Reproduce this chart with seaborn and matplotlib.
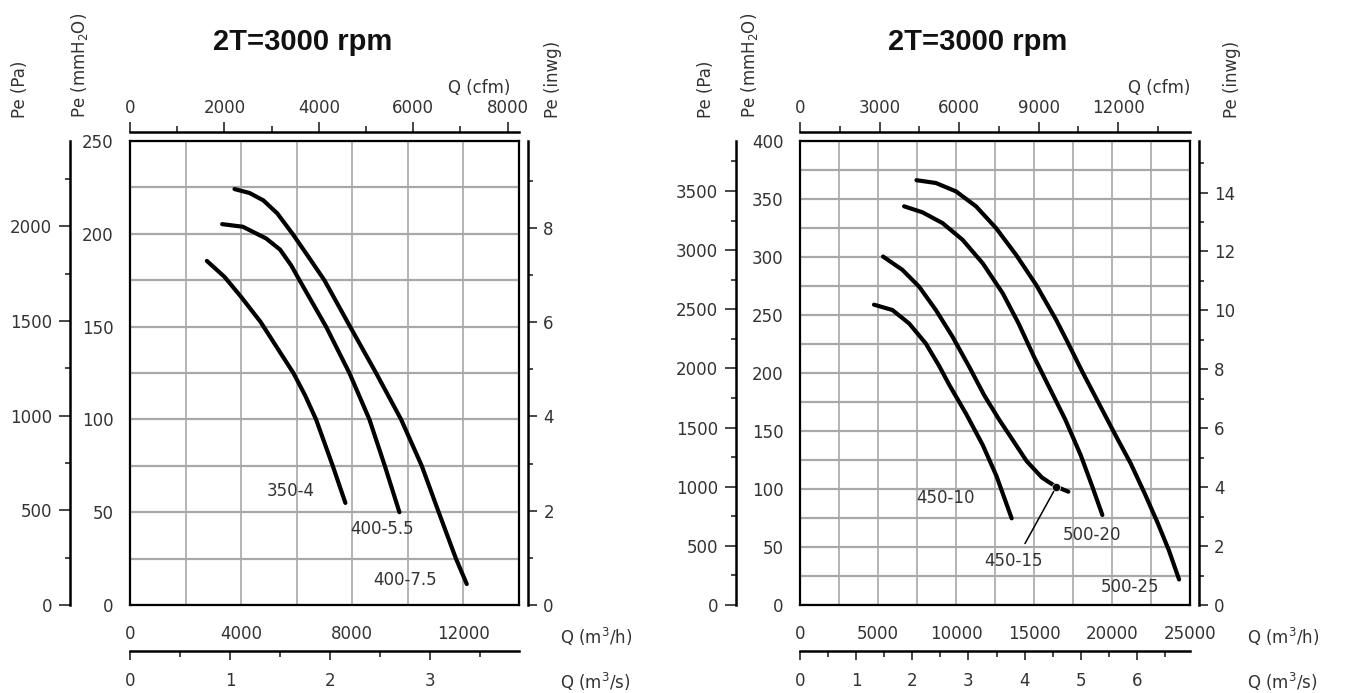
import pandas as pd
import seaborn as sns
import matplotlib.pyplot as plt
from matplotlib.ticker import MultipleLocator

# unit conversions
MM_TO_PA = 9.80665
MM_TO_INWG = 1 / 25.4
MH_TO_CFM = 0.588578
MH_TO_MS = 1 / 3600

# left chart: Q (m3/h) vs Pe (mmH2O)
left_fans = ["350-4", "400-5.5", "400-7.5"]
q_350_4 = [2766, 3401, 4000, 4700, 5300, 5880, 6300, 6696, 7296, 7752]
pe_350_4 = [185.4, 176.8, 166.0, 152.5, 138.5, 125.0, 113.0, 100.0, 75.0, 55.0]
q_400_55 = [3317, 4060, 4898, 5400, 5800, 6100, 7056, 7896, 8616, 9170, 9696]
pe_400_55 = [205.2, 203.8, 197.5, 191.5, 183.0, 175.0, 150.0, 125.0, 100.0, 75.0, 50.0]
q_400_75 = [3760, 4300, 4800, 5300, 5850, 6450, 6996, 7920, 8856, 9756, 10500, 11110, 11730, 12120]
pe_400_75 = [224.1, 222.0, 218.0, 211.0, 200.0, 187.0, 175.0, 150.0, 125.0, 100.0, 75.0, 50.0, 25.0, 11.3]
left_label_q = [5796, 9066, 9892]
left_label_pe = [61.3, 40.8, 13.3]

# right chart
right_fans = ["450-10", "450-15", "500-20", "500-25"]
q_450_10 = [4743, 5922, 6994, 8066, 8923, 9600, 10639, 11711, 12600, 13568]
pe_450_10 = [258.9, 254.3, 242.7, 225.4, 206.0, 189.0, 165.0, 138.0, 111.0, 74.7]
q_450_15 = [5322, 6565, 7637, 8709, 9781, 10853, 11800, 12756, 13450, 14530, 15500, 16000, 16432, 17200]
pe_450_15 = [300.4, 288.9, 274.4, 254.3, 231.2, 205.2, 181.0, 160.0, 146.0, 124.0, 110.0, 105.5, 102.0, 97.7]
q_500_20 = [6672, 7852, 9138, 10424, 11711, 12997, 14000, 15000, 16000, 17000, 18000, 18740, 19381]
pe_500_20 = [343.7, 338.5, 329.2, 314.8, 294.6, 268.7, 243.0, 214.0, 187.0, 160.0, 129.0, 102.0, 77.6]
q_500_25 = [7466, 8709, 9996, 11282, 12568, 13855, 15141, 16428, 17100, 18100, 19150, 20200, 21200, 22100, 22920, 23650, 24300]
pe_500_25 = [366.2, 363.8, 356.6, 343.7, 324.9, 301.8, 275.9, 245.6, 228.0, 201.0, 174.0, 147.0, 122.0, 96.0, 71.0, 47.0, 22.0]
right_label_q = [9310, 13683, 18743, 21144]
right_label_pe = [91.9, 38.0, 60.2, 15.5]
dot_q = [16432]
dot_pe = [102.0]
leader_q = [16432, 14423]
leader_pe = [102.0, 53.0]

W, H = 1357, 693
TXT = "#333333"


def frame(fans, qs, pes):
    rows = []
    for fan, q, p in zip(fans, qs, pes):
        rows += [{"fan": fan, "q": a, "pe": b} for a, b in zip(q, p)]
    return pd.DataFrame(rows)


def ftext(fig, x, y, s, **kw):
    fig.text(x / W, 1 - y / H, s, color=TXT, fontsize=12, **kw)


def setup(ax, xmax, ymax, xgrid, xlab, pa_loc, inwg_loc, cfm_step):
    ax.set_xlim(0, xmax)
    ax.set_ylim(0, ymax)
    ax.set_xlabel("")
    ax.set_ylabel("")
    ax.xaxis.set_major_locator(MultipleLocator(xlab))
    ax.xaxis.set_minor_locator(MultipleLocator(xgrid))
    ax.yaxis.set_major_locator(MultipleLocator(50))
    ax.yaxis.set_minor_locator(MultipleLocator(25))
    ax.grid(which="both", axis="x", color="#a0a0a0", lw=1.1)
    ax.grid(which="both", axis="y", color="#a8a8a8", lw=1.6)
    ax.set_axisbelow(True)
    for s in ax.spines.values():
        s.set_visible(True)
        s.set_color("black")
        s.set_linewidth(1.6)
    ax.tick_params(axis="x", which="both", direction="out", length=3.6, width=1.2,
                   pad=10.5, labelsize=12, labelcolor=TXT, top=False)
    ax.tick_params(axis="y", which="major", direction="out", length=5.8, width=1.2,
                   pad=6, labelsize=12, labelcolor=TXT, right=False)
    ax.tick_params(axis="y", which="minor", length=0)

    # Pe (Pa)
    pa = ax.secondary_yaxis(pa_loc, functions=(lambda v: v * MM_TO_PA, lambda v: v / MM_TO_PA))
    pa.yaxis.set_major_locator(MultipleLocator(500))
    pa.yaxis.set_minor_locator(MultipleLocator(250))
    pa.tick_params(which="major", length=8, width=1.2, pad=5, labelsize=12, labelcolor=TXT)
    pa.tick_params(which="minor", length=3.5, width=1.2)
    # Pe (inwg)
    iw = ax.secondary_yaxis(inwg_loc, functions=(lambda v: v * MM_TO_INWG, lambda v: v / MM_TO_INWG))
    iw.yaxis.set_major_locator(MultipleLocator(2))
    iw.yaxis.set_minor_locator(MultipleLocator(1))
    iw.tick_params(which="major", length=6.8, width=1.2, pad=4.3, labelsize=12, labelcolor=TXT)
    iw.tick_params(which="minor", length=3.8, width=1.2)
    # Q (cfm)
    cf = ax.secondary_xaxis(1.019, functions=(lambda v: v * MH_TO_CFM, lambda v: v / MH_TO_CFM))
    cf.xaxis.set_major_locator(MultipleLocator(cfm_step))
    cf.xaxis.set_minor_locator(MultipleLocator(cfm_step / 2))
    cf.tick_params(which="major", length=7.2, width=1.2, pad=3.6, labelsize=12, labelcolor=TXT)
    cf.tick_params(which="minor", length=4.2, width=1.2)
    # Q (m3/s)
    ms = ax.secondary_xaxis(-0.099, functions=(lambda v: v * MH_TO_MS, lambda v: v / MH_TO_MS))
    ms.xaxis.set_major_locator(MultipleLocator(1))
    ms.xaxis.set_minor_locator(MultipleLocator(0.5))
    ms.tick_params(which="major", length=6.5, width=1.2, pad=8.4, labelsize=12, labelcolor=TXT)
    ms.tick_params(which="minor", length=4, width=1.2)
    for sec in (pa, iw, cf, ms):
        for s in sec.spines.values():
            s.set_linewidth(1.8)
            s.set_color("black")


sns.set_theme(style="white")
plt.rcParams["font.family"] = ["DejaVu Sans"]
fig = plt.figure(figsize=(W / 100, H / 100), dpi=100)

# ---- left chart ----
axl = fig.add_axes([130 / W, 88 / H, 389 / W, 464 / H])
dfl = frame(left_fans, [q_350_4, q_400_55, q_400_75], [pe_350_4, pe_400_55, pe_400_75])
sns.lineplot(data=dfl, x="q", y="pe", hue="fan", palette=["black"] * 3, sort=False,
             estimator=None, legend=False, lw=3, ax=axl)
setup(axl, 14000, 250, 2000, 4000, -0.154, 1.023, 2000)
for name, q, p in zip(left_fans, left_label_q, left_label_pe):
    axl.text(q, p, name, ha="center", va="center", fontsize=12, color=TXT)

# ---- right chart ----
axr = fig.add_axes([800 / W, 88 / H, 390 / W, 464 / H])
dfr = frame(right_fans, [q_450_10, q_450_15, q_500_20, q_500_25],
            [pe_450_10, pe_450_15, pe_500_20, pe_500_25])
sns.lineplot(data=dfr, x="q", y="pe", hue="fan", palette=["black"] * 4, sort=False,
             estimator=None, legend=False, lw=3, ax=axr)
axr.plot(leader_q, leader_pe, color="black", lw=1.1)
sns.scatterplot(x=dot_q, y=dot_pe, color="black", s=35, ax=axr, zorder=5)
setup(axr, 25000, 400, 2500, 5000, -0.164, 1.022, 3000)
for name, q, p in zip(right_fans, right_label_q, right_label_pe):
    axr.text(q, p, name, ha="center", va="center", fontsize=12, color=TXT)

# ---- titles and unit labels ----
for cx in (303, 978):
    fig.text(cx / W, 1 - 42 / H, "2T=3000 rpm", ha="center", va="center",
             fontsize=21, fontweight="bold", family="Liberation Sans", color="#111111")

for x0, pa_x, mm_x, iw_x, cfm_x in ((560, 20, 80, 553, 479), (1247, 706, 750, 1232, 1159)):
    for x, s in ((pa_x, "Pe (Pa)"), (mm_x, "Pe (mmH$_2$O)"), (iw_x, "Pe (inwg)")):
        ftext(fig, x, 118, s, rotation=90, ha="center", va="bottom")
    ftext(fig, cfm_x, 88, "Q (cfm)", ha="center", va="center")
    ftext(fig, x0, 637, "Q (m$^3$/h)", ha="left", va="center")
    ftext(fig, x0, 682, "Q (m$^3$/s)", ha="left", va="center")

fig.savefig("out.png", dpi=100)
